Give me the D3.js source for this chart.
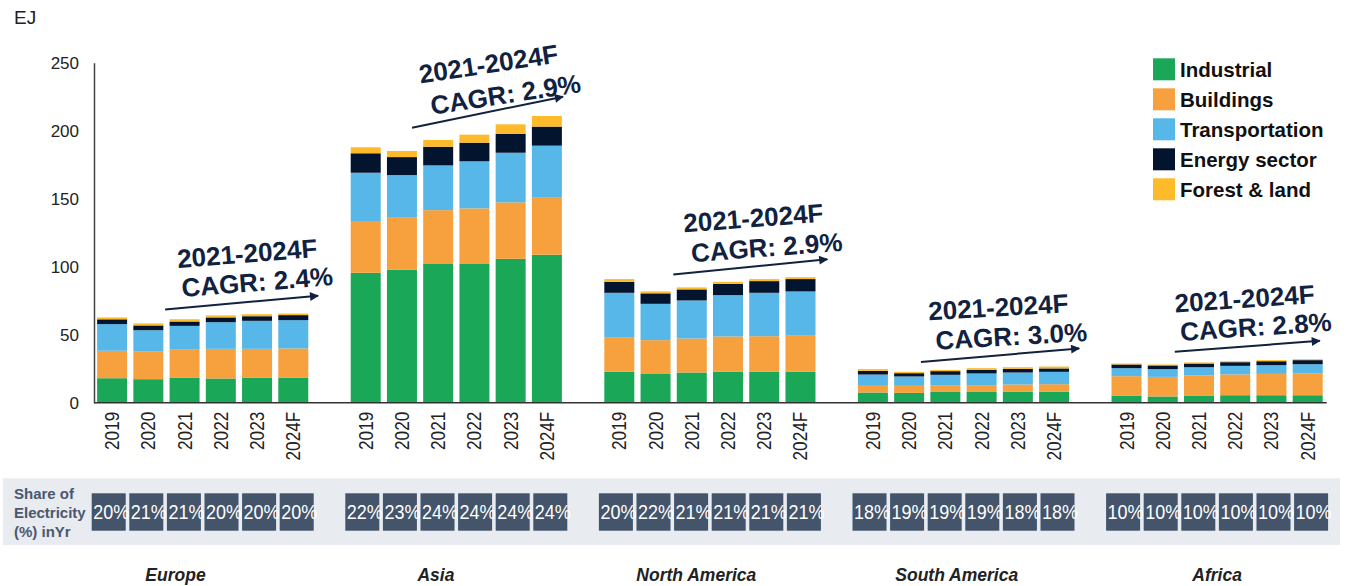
<!DOCTYPE html>
<html>
<head>
<meta charset="utf-8">
<script src="https://cdn.jsdelivr.net/npm/d3@7/dist/d3.min.js"></script>
<style>
  html, body { margin: 0; padding: 0; background: #fff; }
  svg { display: block; font-family: "Liberation Sans", Arial, sans-serif; }
</style>
</head>
<body>
<svg id="chart" width="1348" height="586"></svg>
<script>
// ---------------- DATA ----------------
const regions = ["Europe", "Asia", "North America", "South America", "Africa"];
const years = ["2019", "2020", "2021", "2022", "2023", "2024F"];
const seriesNames = ["Industrial", "Buildings", "Transportation", "Energy sector", "Forest & land"];

// EJ values, region by region, 2019..2024F
const industrial = [
  18.0, 17.3, 18.2, 17.8, 18.2, 18.2,
  95.5, 97.7, 102.4, 102.4, 105.8, 108.8,
  22.7, 21.5, 22.2, 22.7, 22.7, 22.7,
  7.5, 7.2, 7.9, 7.9, 8.2, 8.2,
  5.0, 4.6, 5.3, 5.5, 5.5, 5.5
];
const buildings = [
  20.2, 20.6, 21.2, 21.8, 21.4, 21.7,
  38.1, 38.3, 39.2, 40.5, 41.5, 42.4,
  25.5, 24.5, 25.0, 26.0, 26.2, 27.0,
  4.9, 5.2, 5.0, 5.0, 5.2, 5.4,
  14.5, 14.4, 14.7, 15.3, 15.7, 16.0
];
const transportation = [
  19.6, 15.4, 17.1, 19.6, 20.6, 20.8,
  35.5, 31.4, 32.9, 34.6, 36.5, 37.8,
  32.6, 26.7, 28.0, 30.4, 31.9, 32.1,
  8.3, 6.9, 7.6, 8.6, 8.8, 9.1,
  5.9, 5.7, 6.1, 6.3, 6.4, 6.8
];
const energySector = [
  3.5, 3.5, 3.2, 3.5, 3.4, 3.7,
  14.3, 13.2, 13.7, 13.7, 13.8, 14.0,
  8.1, 7.7, 8.1, 8.3, 8.6, 9.1,
  2.7, 2.4, 2.7, 2.6, 2.7, 2.5,
  2.7, 2.7, 2.7, 2.7, 2.9, 3.0
];
const forestLand = [
  1.4, 1.5, 1.7, 1.5, 1.5, 1.2,
  4.4, 4.5, 5.0, 5.9, 7.1, 7.8,
  2.0, 1.4, 1.5, 1.5, 1.5, 1.4,
  1.3, 1.0, 0.9, 1.3, 1.2, 1.4,
  0.7, 0.7, 0.8, 0.7, 0.8, 0.7
];
const shareElectricity = [
  20, 21, 21, 20, 20, 20,
  22, 23, 24, 24, 24, 24,
  20, 22, 21, 21, 21, 21,
  18, 19, 19, 19, 18, 18,
  10, 10, 10, 10, 10, 10
];
const cagrPeriod = "2021-2024F";
const cagrValues = ["2.4%", "2.9%", "2.9%", "3.0%", "2.8%"];
const yTicks = [0, 50, 100, 150, 200, 250];
const unitLabel = "EJ";
const shareLabel = ["Share of", "Electricity", "(%) inYr"];

// ---------------- STYLE / LAYOUT ----------------
const colors = ["#1aa757", "#f7a13e", "#56b7e8", "#02142e", "#fdbb2b"];
const annoColor = "#10223f";
// annotation layout: offsets from group's first bar (px) and heights in EJ
const annoLayout = [
  { l1: [150, 110], l2: [160, 89], a0: [68, 68.6], a1: [221, 78.6], rot: -4.5 },
  { l1: [137.7, 249.3], l2: [154.8, 226.9], a0: [61.3, 202.2], a1: [212.3, 225.0], rot: -8.7 },
  { l1: [149, 136], l2: [162.3, 114.4], a0: [69, 94.3], a1: [223, 105.4], rot: -4.3 },
  { l1: [140.3, 70.5], l2: [153.3, 49.1], a0: [63, 30], a1: [221.3, 39.9], rot: -3.3 },
  { l1: [133, 76.7], l2: [144.3, 56.1], a0: [63.3, 37.4], a1: [208.3, 45.5], rot: -3.9 }
];

// ---------------- BUILD ----------------
const rows = [];
regions.forEach((r, ri) => {
  years.forEach((yr, yi) => {
    const i = ri * years.length + yi;
    rows.push({
      region: r, year: yr, share: shareElectricity[i],
      "Industrial": industrial[i],
      "Buildings": buildings[i],
      "Transportation": transportation[i],
      "Energy sector": energySector[i],
      "Forest & land": forestLand[i]
    });
  });
});

const svg = d3.select("#chart");

const x0 = d3.scaleBand().domain(regions).range([94, 94 + 5 * 253.6]);
const x1 = d3.scaleBand().domain(years).range([0, 217.4]).paddingInner(0.172).paddingOuter(0.086);
const y = d3.scaleLinear().domain([0, 250]).range([402.7, 62.7]);
const color = d3.scaleOrdinal().domain(seriesNames).range(colors);

const stack = d3.stack().keys(seriesNames);
const stacked = stack(rows);

// bars
const gBars = svg.append("g");
stacked.forEach(layer => {
  gBars.selectAll(null)
    .data(layer)
    .enter().append("rect")
    .attr("x", d => x0(d.data.region) + x1(d.data.year))
    .attr("width", x1.bandwidth())
    .attr("y", d => y(d[1]))
    .attr("height", d => y(d[0]) - y(d[1]))
    .attr("fill", color(layer.key));
});

// y axis
const yAxis = d3.axisLeft(y).tickValues(yTicks).tickSize(0).tickPadding(15).tickFormat(d3.format("d"));
const gy = svg.append("g").attr("transform", "translate(94,0)").call(yAxis);
gy.select(".domain").attr("stroke", "#444").attr("stroke-width", 1.5);
gy.selectAll("text").attr("font-size", 17).attr("fill", "#222")
  .attr("font-family", "'Liberation Sans', Arial, sans-serif");

// x axis (per-region, years rotated)
const xEnd = x0(regions[regions.length - 1]) + x1(years[years.length - 1]) + x1.bandwidth() + 4;
svg.append("line").attr("x1", 94).attr("x2", xEnd).attr("y1", y(0)).attr("y2", y(0))
  .attr("stroke", "#333").attr("stroke-width", 1.5);

regions.forEach(r => {
  const ax = d3.axisBottom(x1).tickSize(0).tickPadding(0);
  const g = svg.append("g").attr("transform", `translate(${x0(r)},${y(0)})`).call(ax);
  g.select(".domain").remove();
  g.selectAll("text")
    .attr("font-size", 20).attr("fill", "#222")
    .attr("font-family", "'Liberation Sans', Arial, sans-serif")
    .attr("text-anchor", "end")
    .attr("transform", "translate(0,9) rotate(-90) scale(0.86,1)")
    .attr("x", 0).attr("y", 0).attr("dy", "0.35em");
});

// unit label
svg.append("text").attr("x", 14).attr("y", 17).attr("dy", "0.35em")
  .attr("font-size", 19).attr("fill", "#222").text(unitLabel);

// CAGR annotations
const defs = svg.append("defs");
defs.append("marker").attr("id", "arrowhead")
  .attr("viewBox", "0 0 10 10").attr("refX", 9).attr("refY", 5)
  .attr("markerWidth", 5).attr("markerHeight", 4.5).attr("orient", "auto")
  .attr("markerUnits", "strokeWidth")
  .append("path").attr("d", "M0,0 L10,5 L0,10 Z").attr("fill", annoColor);

regions.forEach((r, ri) => {
  const L = annoLayout[ri];
  const gx = x0(r) + x1(years[0]);
  svg.append("line")
    .attr("x1", gx + L.a0[0]).attr("y1", y(L.a0[1]))
    .attr("x2", gx + L.a1[0]).attr("y2", y(L.a1[1]))
    .attr("stroke", annoColor).attr("stroke-width", 2)
    .attr("marker-end", "url(#arrowhead)");
  const lines = [[L.l1, cagrPeriod], [L.l2, "CAGR: " + cagrValues[ri]]];
  lines.forEach(([pos, txt]) => {
    const cx = gx + pos[0], cy = y(pos[1]);
    svg.append("text")
      .attr("transform", `translate(${cx},${cy}) rotate(${L.rot})`)
      .attr("text-anchor", "middle").attr("dy", "0.36em")
      .attr("font-size", 26).attr("font-weight", "bold").attr("fill", annoColor)
      .text(txt);
  });
});

// legend
const legend = svg.append("g").attr("transform", "translate(1153,58.3)");
seriesNames.forEach((s, i) => {
  const g = legend.append("g").attr("transform", `translate(0,${i * 30})`);
  g.append("rect").attr("width", 22).attr("height", 22).attr("fill", color(s));
  g.append("text").attr("x", 27).attr("y", 11).attr("dy", "0.36em")
    .attr("font-size", 20.5).attr("font-weight", "bold").attr("fill", "#111").text(s);
});

// share of electricity band
svg.append("rect").attr("x", 3).attr("y", 478.3).attr("width", 1337).attr("height", 66.7)
  .attr("fill", "#e8ebf0");
const shareTxt = svg.append("text").attr("font-size", 15).attr("font-weight", "bold").attr("fill", "#4a586e");
shareLabel.forEach((t, i) => {
  shareTxt.append("tspan").attr("x", 14).attr("y", 494 + i * 19).attr("dy", "0.36em").text(t);
});

const cellScale = d3.scaleBand().domain(years).range([-112.8, 112.8]).paddingInner(0.0957).paddingOuter(0.0479);
rows.forEach(d => {
  const center = x0(d.region) + x1(years[0]) + (x1(years[years.length - 1]) + x1.bandwidth() - x1(years[0])) / 2;
  const cx = center + cellScale(d.year);
  svg.append("rect").attr("x", cx).attr("y", 493.3).attr("width", cellScale.bandwidth()).attr("height", 37.4)
    .attr("fill", "#44546a");
  svg.append("text").attr("transform", `translate(${cx + 1.5},512) scale(0.9,1)`).attr("dy", "0.36em")
    .attr("font-size", 20).attr("fill", "#ffffff").text(d.share + "%");
});

// region labels
const xLabel = d3.scaleBand().domain(regions).range([45.3, 1347.3]);
svg.append("g").selectAll("text").data(regions).enter().append("text")
  .attr("x", d => xLabel(d) + xLabel.bandwidth() / 2).attr("y", 575).attr("dy", "0.36em")
  .attr("text-anchor", "middle").attr("font-size", 17.5).attr("font-weight", "bold")
  .attr("font-style", "italic").attr("fill", "#222").text(d => d);
</script>
</body>
</html>
